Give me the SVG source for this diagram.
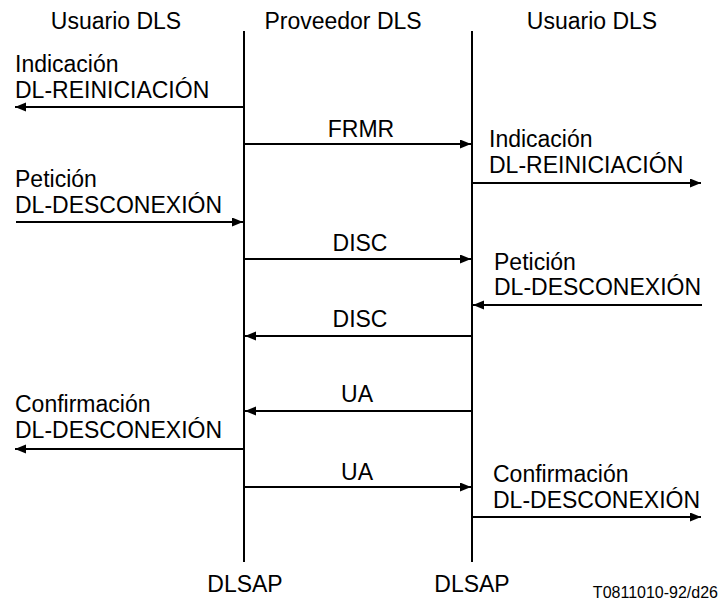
<svg xmlns="http://www.w3.org/2000/svg" width="720" height="602" viewBox="0 0 720 602">
<style>
text{font-family:"Liberation Sans",Arial,sans-serif;font-size:23px;fill:#000}
.c{text-anchor:middle}
.small{font-size:16px;text-anchor:end}
.ln{stroke:#000;stroke-width:2;fill:none}
.ar{stroke:#000;stroke-width:2;fill:none;marker-end:url(#ah)}
</style>
<defs>
<marker id="ah" markerUnits="userSpaceOnUse" markerWidth="12" markerHeight="10" refX="11" refY="4.5" orient="auto">
<path d="M0,0 L11,4.5 L0,9 z" fill="#000"/>
</marker>
</defs>
<rect width="720" height="602" fill="#fff"/>
<g id="headers">
<text class="c" x="116" y="29">Usuario DLS</text>
<text class="c" x="343" y="29">Proveedor DLS</text>
<text class="c" x="592" y="29">Usuario DLS</text>
</g>
<g id="lifeline-left">
<line class="ln" x1="244" y1="31" x2="244" y2="562"/>
<text class="c" x="245" y="592">DLSAP</text>
</g>
<g id="lifeline-right">
<line class="ln" x1="472" y1="31" x2="472" y2="562"/>
<text class="c" x="472" y="592">DLSAP</text>
</g>
<g id="labels">
<text x="15" y="72">Indicación</text>
<text x="15" y="98">DL-REINICIACIÓN</text>
<text class="c" x="361" y="137">FRMR</text>
<text x="489" y="147">Indicación</text>
<text x="489" y="173">DL-REINICIACIÓN</text>
<text x="15" y="187">Petición</text>
<text x="15" y="213">DL-DESCONEXIÓN</text>
<text class="c" x="360" y="251">DISC</text>
<text x="494" y="270">Petición</text>
<text x="494" y="295">DL-DESCONEXIÓN</text>
<text class="c" x="360" y="327">DISC</text>
<text class="c" x="357" y="402">UA</text>
<text x="15" y="412">Confirmación</text>
<text x="15" y="438">DL-DESCONEXIÓN</text>
<text class="c" x="357" y="480">UA</text>
<text x="493" y="482">Confirmación</text>
<text x="493" y="508">DL-DESCONEXIÓN</text>
<text class="small" x="718" y="598">T0811010-92/d26</text>
</g>
<g id="connectors">
<line class="ar" x1="244" y1="107" x2="15" y2="107"/>
<line class="ar" x1="244" y1="144" x2="471" y2="144"/>
<line class="ar" x1="472" y1="183" x2="701" y2="183"/>
<line class="ar" x1="16" y1="222" x2="243" y2="222"/>
<line class="ar" x1="244" y1="259" x2="471" y2="259"/>
<line class="ar" x1="702" y1="305" x2="473" y2="305"/>
<line class="ar" x1="472" y1="336" x2="245" y2="336"/>
<line class="ar" x1="472" y1="411" x2="245" y2="411"/>
<line class="ar" x1="244" y1="449" x2="15" y2="449"/>
<line class="ar" x1="244" y1="487" x2="471" y2="487"/>
<line class="ar" x1="472" y1="517" x2="701" y2="517"/>
</g>
</svg>
